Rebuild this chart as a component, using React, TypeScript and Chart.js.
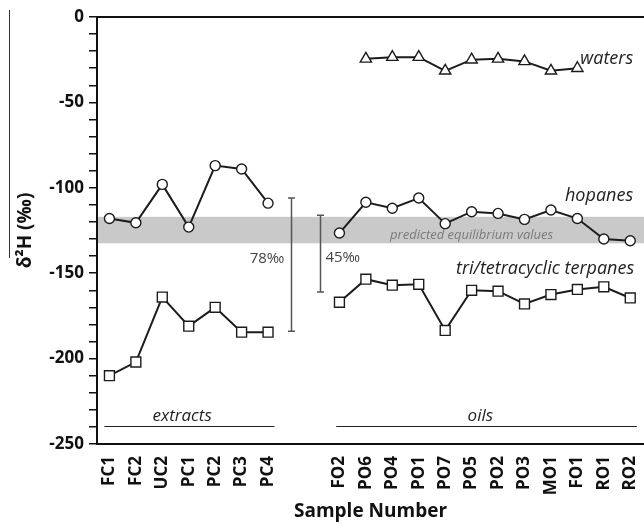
import React, { useEffect, useRef } from 'react';
import { Chart, registerables } from 'chart.js';

Chart.register(...registerables);

// ---------- data ----------
const EXTRACTS = ['FC1', 'FC2', 'UC2', 'PC1', 'PC2', 'PC3', 'PC4'];
const OILS = ['FO2', 'PO6', 'PO4', 'PO1', 'PO7', 'PO5', 'PO2', 'PO3', 'MO1', 'FO1', 'RO1', 'RO2'];

const HOPANES_EXTRACTS = [-118, -120.5, -98, -123, -87, -89, -109];
const HOPANES_OILS = [-126.5, -108.5, -112, -106, -121, -114, -115, -118.5, -113, -118, -130, -131];
const TERPANES_EXTRACTS = [-210, -202, -164, -181, -170, -184.5, -184.5];
const TERPANES_OILS = [-167, -153.5, -157, -156.5, -183.5, -160, -160.5, -168, -162.5, -159.5, -158, -164.5];
const WATERS_OILS: (number | null)[] = [null, -24.5, -23.5, -23.5, -31.5, -25, -24.5, -26, -31.5, -30, null, null];

const EQUILIBRIUM_RANGE = [-117, -132.5];
const RANGE_EXTRACTS = [-106, -184]; // 78‰
const RANGE_OILS = [-116, -161]; // 45‰

const Y_MIN = -250;
const Y_MAX = 0;
const Y_MAJOR = 50;
const Y_MINOR = 10;

// ---------- layout helpers ----------
const GROUP_GAP = 2.7; // distance (in sample steps) between last extract and first oil
const extractX = (i: number) => i;
const oilX = (j: number) => EXTRACTS.length - 1 + GROUP_GAP + j;
const X_MIN = -0.47;
const X_MAX = 20.22;

const FONT = "'Open Sans', 'DejaVu Sans', sans-serif";

export default function App() {
  const ref = useRef<HTMLCanvasElement>(null);

  useEffect(() => {
    const canvas = ref.current;
    if (!canvas) return;

    const tickPositions = [...EXTRACTS.map((_, i) => extractX(i)), ...OILS.map((_, j) => oilX(j))];
    const tickLabels = [...EXTRACTS, ...OILS];

    const LINE = '#1c1c1c';
    const mk = (label: string, xs: number[], ys: (number | null)[], style: any, radius: number) => ({
      label,
      data: ys.map((y, i) => ({ x: xs[i], y })),
      borderColor: LINE,
      borderWidth: 2,
      pointStyle: style,
      pointRadius: radius,
      pointHoverRadius: radius,
      pointBorderWidth: 1.4,
      pointBackgroundColor: '#ffffff',
      pointBorderColor: LINE,
      backgroundColor: '#ffffff',
      tension: 0,
      spanGaps: false,
      fill: false,
    });

    const ex = EXTRACTS.map((_, i) => extractX(i));
    const oi = OILS.map((_, j) => oilX(j));

    const annot = {
      id: 'annot',
      beforeDatasetsDraw(chart: any) {
        const { ctx, chartArea: a, scales } = chart;
        const x = scales.x, y = scales.y;
        ctx.save();
        // equilibrium band
        const y1 = y.getPixelForValue(EQUILIBRIUM_RANGE[0]);
        const y2 = y.getPixelForValue(EQUILIBRIUM_RANGE[1]);
        ctx.fillStyle = '#c9c9c9';
        ctx.fillRect(a.left + 1, y1, a.right - a.left, y2 - y1);
        ctx.fillStyle = '#7a7a7a';
        ctx.font = `italic 13px ${FONT}`;
        ctx.textAlign = 'center';
        ctx.textBaseline = 'middle';
        ctx.fillText('predicted equilibrium values', x.getPixelForValue(13.7), y.getPixelForValue(-128));

        // top frame line
        ctx.strokeStyle = '#111';
        ctx.lineWidth = 2;
        ctx.beginPath();
        ctx.moveTo(a.left, a.top);
        ctx.lineTo(a.right, a.top);
        ctx.stroke();

        // range brackets
        const bracket = (xv: number, r: number[]) => {
          const px = Math.round(x.getPixelForValue(xv)) + 0.5;
          const t = y.getPixelForValue(r[0]);
          const b = y.getPixelForValue(r[1]);
          ctx.strokeStyle = '#555';
          ctx.lineWidth = 1.5;
          ctx.beginPath();
          ctx.moveTo(px, t);
          ctx.lineTo(px, b);
          ctx.moveTo(px - 3.5, t);
          ctx.lineTo(px + 3.5, t);
          ctx.moveTo(px - 3.5, b);
          ctx.lineTo(px + 3.5, b);
          ctx.stroke();
        };
        bracket(6.88, RANGE_EXTRACTS);
        bracket(7.98, RANGE_OILS);
        ctx.fillStyle = '#444';
        ctx.font = `15px ${FONT}`;
        ctx.textBaseline = 'middle';
        ctx.textAlign = 'center';
        ctx.fillText(`${Math.round(RANGE_EXTRACTS[0] - RANGE_EXTRACTS[1])}‰`, x.getPixelForValue(5.96), y.getPixelForValue(-141.6));
        ctx.textAlign = 'left';
        ctx.fillText(`${Math.round(RANGE_OILS[0] - RANGE_OILS[1])}‰`, x.getPixelForValue(8.17), y.getPixelForValue(-141));

        // group labels
        ctx.fillStyle = '#222';
        ctx.font = `italic 17px ${FONT}`;
        ctx.textAlign = 'center';
        ctx.fillText('extracts', x.getPixelForValue(2.75), y.getPixelForValue(-233.6));
        ctx.fillText('oils', x.getPixelForValue(14.03), y.getPixelForValue(-233.6));
        ctx.strokeStyle = '#222';
        ctx.lineWidth = 1;
        const ly = Math.round(y.getPixelForValue(-239.4)) + 0.5;
        ctx.beginPath();
        ctx.moveTo(x.getPixelForValue(-0.19), ly);
        ctx.lineTo(x.getPixelForValue(6.24), ly);
        ctx.moveTo(x.getPixelForValue(8.58), ly);
        ctx.lineTo(x.getPixelForValue(19.95), ly);
        ctx.stroke();

        // series labels
        ctx.font = `italic 18px ${FONT}`;
        ctx.textAlign = 'right';
        ctx.fillText('waters', x.getPixelForValue(19.81), y.getPixelForValue(-24.4));
        ctx.fillText('hopanes', x.getPixelForValue(19.81), y.getPixelForValue(-105));
        ctx.fillText('tri/tetracyclic terpanes', x.getPixelForValue(19.85), y.getPixelForValue(-147.5));

        // decorative rule left of y title
        ctx.strokeStyle = '#333';
        ctx.lineWidth = 1;
        ctx.beginPath();
        ctx.moveTo(9.5, 10);
        ctx.lineTo(9.5, 258);
        ctx.stroke();
        ctx.restore();
      },
    };

    const chart = new Chart(canvas, {
      type: 'line',
      data: {
        datasets: [
          mk('hopanes extracts', ex, HOPANES_EXTRACTS, 'circle', 5),
          mk('hopanes oils', oi, HOPANES_OILS, 'circle', 5),
          mk('terpanes extracts', ex, TERPANES_EXTRACTS, 'rect', 7),
          mk('terpanes oils', oi, TERPANES_OILS, 'rect', 7),
          mk('waters', oi, WATERS_OILS, 'triangle', 6.5),
        ] as any,
      },
      options: {
        responsive: false,
        animation: false,
        layout: { autoPadding: false, padding: { top: 17, right: 0, left: 0, bottom: 0 } },
        plugins: { legend: { display: false }, tooltip: { enabled: false } },
        scales: {
          x: {
            type: 'linear',
            min: X_MIN,
            max: X_MAX,
            afterBuildTicks: (s: any) => {
              s.ticks = tickPositions.map((v) => ({ value: v }));
            },
            afterFit: (s: any) => {
              s.height = 79;
              s.paddingLeft = 0;
              s.paddingRight = 0;
            },
            grid: { display: false, drawTicks: false },
            border: { display: true, color: '#111', width: 2 },
            ticks: {
              autoSkip: false,
              minRotation: 90,
              maxRotation: 90,
              padding: 12,
              color: '#111',
              font: { family: FONT, size: 17, weight: 'bold' },
              callback: (_v: any, i: number) => tickLabels[i],
            },
            title: {
              display: true,
              text: 'Sample Number',
              color: '#111',
              font: { family: FONT, size: 19, weight: 'bold' },
              padding: { top: 0, bottom: 0 },
            },
          },
          y: {
            type: 'linear',
            min: Y_MIN,
            max: Y_MAX,
            afterFit: (s: any) => {
              s.width = 97;
              s.paddingTop = 0;
              s.paddingBottom = 0;
            },
            grid: { display: true, drawOnChartArea: false, drawTicks: true, tickLength: 8, color: '#111', lineWidth: 1.5 },
            border: { display: true, color: '#111', width: 2 },
            ticks: {
              stepSize: Y_MINOR,
              autoSkip: false,
              padding: 5,
              color: '#111',
              font: { family: FONT, size: 17, weight: 'bold' },
              callback: (v: any) => (Math.round(Number(v)) % Y_MAJOR === 0 ? String(Math.round(Number(v))) : ''),
            },
            title: {
              display: true,
              text: 'δ²H (‰)',
              color: '#111',
              font: { family: FONT, size: 19, weight: 'bold' },
              padding: { top: 14, bottom: 0 },
            },
          },
        },
      },
      plugins: [annot],
    } as any);

    return () => chart.destroy();
  }, []);

  return (
    <div style={{ position: 'fixed', left: 0, top: 0, width: 644, height: 523, background: '#fff' }}>
      <canvas ref={ref} width={644} height={523} style={{ display: 'block' }} />
    </div>
  );
}
